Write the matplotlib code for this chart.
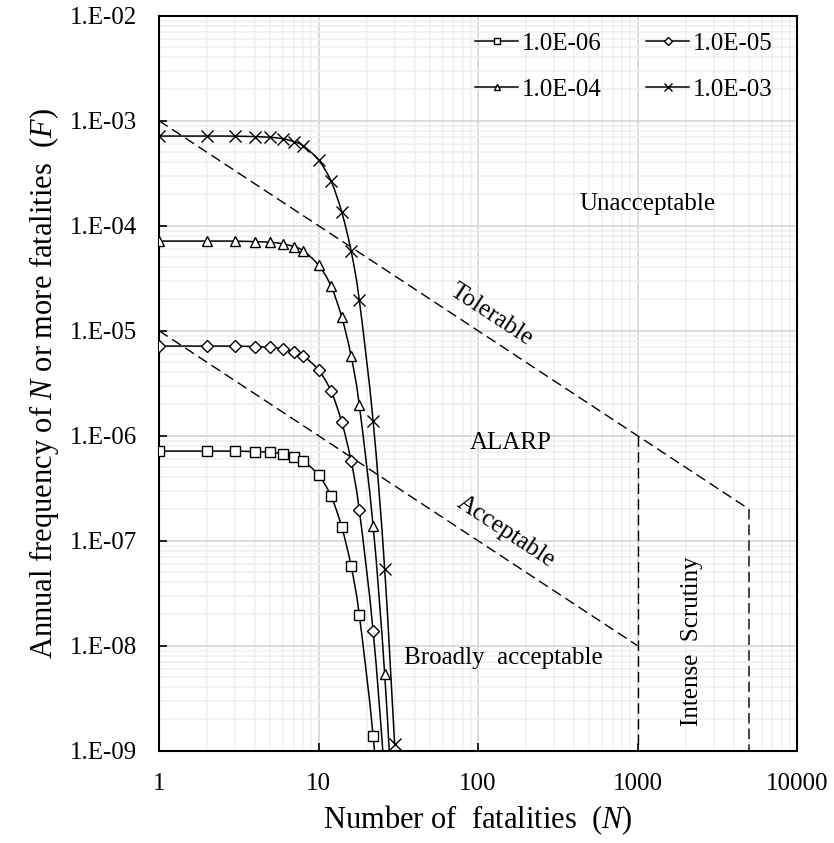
import matplotlib
matplotlib.use("Agg")
import matplotlib.pyplot as plt
import numpy as np
from matplotlib.lines import Line2D
from matplotlib.patches import PathPatch
from matplotlib.path import Path
from matplotlib.ticker import FixedLocator, FixedFormatter, LogLocator, NullFormatter

plt.rcParams["font.family"] = ["Liberation Serif", "DejaVu Serif"]
plt.rcParams["mathtext.fontset"] = "custom"
plt.rcParams["mathtext.rm"] = "Liberation Serif"
plt.rcParams["mathtext.it"] = "Liberation Serif:italic"

# number of fatalities at which the curves were evaluated
n_fat = [1, 2, 3, 4, 5, 6, 7, 8, 10, 12, 14, 16, 18, 22, 26, 30]

# annual frequency of N or more fatalities, one list per initiating frequency
f_1e6 = [7.14e-7, 7.14e-7, 7.13e-7, 7.05e-7, 6.95e-7, 6.72e-7, 6.32e-7, 5.78e-7,
         4.22e-7, 2.65e-7, 1.34e-7, 5.76e-8, 1.98e-8, 1.38e-9, 5.35e-11, 1.16e-12]
f_1e5 = [7.14e-6, 7.14e-6, 7.13e-6, 7.05e-6, 6.95e-6, 6.72e-6, 6.32e-6, 5.78e-6,
         4.22e-6, 2.65e-6, 1.34e-6, 5.76e-7, 1.98e-7, 1.38e-8, 5.35e-10, 1.16e-11]
f_1e4 = [7.14e-5, 7.14e-5, 7.13e-5, 7.05e-5, 6.95e-5, 6.72e-5, 6.32e-5, 5.78e-5,
         4.22e-5, 2.65e-5, 1.34e-5, 5.76e-6, 1.98e-6, 1.38e-7, 5.35e-9, 1.16e-10]
f_1e3 = [7.14e-4, 7.14e-4, 7.13e-4, 7.05e-4, 6.95e-4, 6.72e-4, 6.32e-4, 5.78e-4,
         4.22e-4, 2.65e-4, 1.34e-4, 5.76e-5, 1.98e-5, 1.38e-6, 5.35e-8, 1.16e-9]

series_labels = ["1.0E-06", "1.0E-05", "1.0E-04", "1.0E-03"]
series_markers = ["s", "D", "^", "x"]
marker_sizes = [7, 6.5, 7.5, 8.5]

# criterion lines
upper_n = [1, 5000, 5000]
upper_f = [1e-3, 2e-7, 1e-9]
lower_n = [1, 1000]
lower_f = [1e-5, 1e-8]
scrutiny_n = [1000, 1000]
scrutiny_f = [1e-6, 1e-9]

x_ticks = [1, 10, 100, 1000, 10000]
x_ticklabels = ["1", "10", "100", "1000", "10000"]
y_ticks = [1e-9, 1e-8, 1e-7, 1e-6, 1e-5, 1e-4, 1e-3, 1e-2]
y_ticklabels = ["1.E-09", "1.E-08", "1.E-07", "1.E-06", "1.E-05", "1.E-04", "1.E-03", "1.E-02"]


def smooth_path(x, y):
    # spreadsheet-style smoothed line: cubic Bezier through the points (log-log space)
    pts = np.column_stack([np.log10(x), np.log10(y)])
    n = len(pts)
    verts = [pts[0]]
    codes = [Path.MOVETO]
    for i in range(n - 1):
        p0, p1 = pts[max(i - 1, 0)], pts[i]
        p2, p3 = pts[i + 1], pts[min(i + 2, n - 1)]
        verts += [p1 + (p2 - p0) / 6, p2 - (p3 - p1) / 6, p2]
        codes += [Path.CURVE4] * 3
    return Path(10 ** np.array(verts), codes)


fig = plt.figure(figsize=(8.34, 8.43), dpi=100)
ax = fig.add_axes([159 / 834, 1 - 750.7 / 843, (797 - 159) / 834, (750.7 - 15.7) / 843])
ax.set_xscale("log")
ax.set_yscale("log")

# grid
ax.xaxis.set_minor_locator(LogLocator(base=10, subs=range(2, 10)))
ax.yaxis.set_minor_locator(LogLocator(base=10, subs=range(2, 10)))
ax.xaxis.set_minor_formatter(NullFormatter())
ax.yaxis.set_minor_formatter(NullFormatter())
ax.grid(True, which="major", color="#d9d9d9", linewidth=1.3, zorder=0)
ax.grid(True, which="minor", color="#efefef", linewidth=1.1, zorder=0)
ax.set_axisbelow(True)

# criterion lines
dash = dict(color="black", linewidth=1.0, dashes=(7.5, 3.8), zorder=2)
ax.plot(upper_n, upper_f, **dash)
ax.plot(lower_n, lower_f, **dash)
ax.plot(scrutiny_n, scrutiny_f, **dash)

# F-N curves
handles = []
for f, lab, mk, ms in zip([f_1e6, f_1e5, f_1e4, f_1e3], series_labels, series_markers, marker_sizes):
    ax.add_patch(PathPatch(smooth_path(n_fat, f), facecolor="none", edgecolor="black",
                           linewidth=1.1, zorder=3))
    style = dict(color="black", marker=mk, markersize=ms, markerfacecolor="white",
                 markeredgecolor="black", markeredgewidth=1.0)
    ax.plot(n_fat, f, linestyle="none", zorder=4, **style)
    handles.append(Line2D([], [], linewidth=1.1, label=lab, **style))

ax.set_xlim(1, 10000)
ax.set_ylim(1e-9, 1e-2)

# region annotations
ax.text(1150, 1.6e-4, "Unacceptable", fontsize=18, ha="center", va="center")
ax.text(122, 1.4e-5, "Tolerable", fontsize=18, ha="center", va="center",
        rotation=-33.3, rotation_mode="anchor")
ax.text(160, 8.5e-7, "ALARP", fontsize=18, ha="center", va="center")
ax.text(149, 1.21e-7, "Acceptable", fontsize=18, ha="center", va="center",
        rotation=-33.3, rotation_mode="anchor")
ax.text(145, 7.6e-9, "Broadly  acceptable", fontsize=18, ha="center", va="center")
ax.text(2200, 1.1e-8, "Intense  Scrutiny", fontsize=18, ha="center", va="center",
        rotation=90)

# axes, ticks, labels
ax.xaxis.set_major_locator(FixedLocator(x_ticks))
ax.xaxis.set_major_formatter(FixedFormatter(x_ticklabels))
ax.yaxis.set_major_locator(FixedLocator(y_ticks))
ax.yaxis.set_major_formatter(FixedFormatter(y_ticklabels))
ax.tick_params(which="major", direction="in", length=6, width=1.2, labelsize=18, pad=16,
               color="black")
ax.tick_params(which="minor", length=0)
for s in ax.spines.values():
    s.set_linewidth(1.5)
    s.set_color("black")

ax.set_xlabel("Number of  fatalities  ($N$)", fontsize=22, labelpad=6)
ax.set_ylabel("Annual frequency of $N$ or more fatalities  ($F$)", fontsize=22, labelpad=6)

# legend filled row-wise: 1.0E-06, 1.0E-05 / 1.0E-04, 1.0E-03
order = [0, 2, 1, 3]
ax.legend([handles[i] for i in order], [series_labels[i] for i in order],
          ncol=2, loc="upper right", bbox_to_anchor=(0.985, 0.998), frameon=False,
          fontsize=18, handlelength=1.7, handletextpad=0.15, columnspacing=1.8,
          labelspacing=0.95, markerscale=0.6, borderaxespad=0.2)

fig.savefig("out.png", dpi=100)
